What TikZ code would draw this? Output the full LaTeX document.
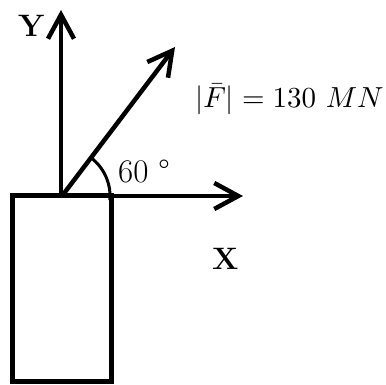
\documentclass[tikz,border=0pt]{standalone}
\usetikzlibrary{arrows.meta}
\begin{document}
\begin{tikzpicture}[x=1pt,y=1pt,
  axis/.style={line width=4.5pt,-{Straight Barb[length=24pt,width=26pt]}},
  blockline/.style={line width=5pt},
  lbl/.style={inner sep=0pt,font=\fontsize{31}{33}\selectfont\bfseries},
  txt/.style={inner sep=0pt,font=\fontsize{33}{35}\selectfont}]
\useasboundingbox (0,0) rectangle (386,385);
\coordinate (O) at (62,189);
\coordinate (Ytip) at (61,375);
\coordinate (Xtip) at (243,189);
\coordinate (Ftip) at (175,338);
\coordinate (Bl) at (12.5,3);
\coordinate (Tr) at (111,189);
\draw[blockline] (Bl) rectangle (Tr);
\draw[axis] (61,189) -- (Ytip);
\draw[axis] (61,189) -- (Xtip);
\draw[axis] (O) -- (Ftip);
\draw[line width=3pt] ([shift={(-5:48)}]O) arc[start angle=-5,end angle=53,radius=48];
\node[lbl,anchor=base west] (ylab) at (18,348) {Y};
\node[lbl,anchor=base west] (xlab) at (212,115) {X};
\node[txt,anchor=base west] (ang) at (118,202) {60 °};
\node[inner sep=0pt,anchor=base west] (flab) at (195,277) {\scalebox{2.9}{$|\bar{F}| = 130\ MN$}};
\end{tikzpicture}
\end{document}
